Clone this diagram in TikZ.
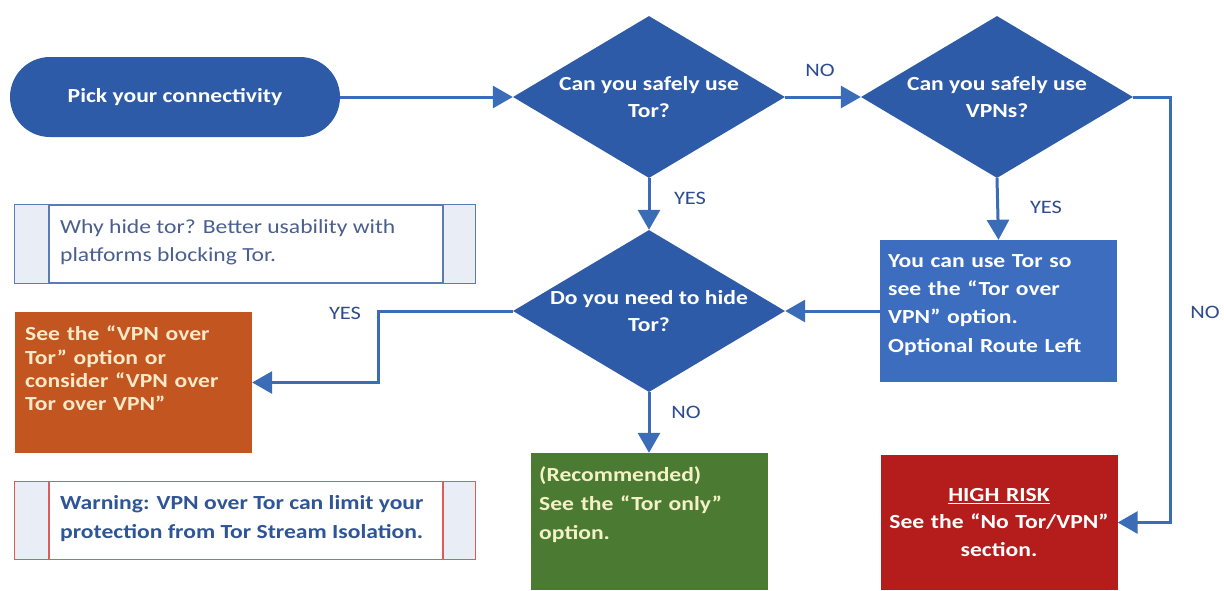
\documentclass[tikz,border=0pt]{standalone}
\usepackage{fontspec}
\setmainfont{Carlito}[FakeStretch=1.18]
\usetikzlibrary{shapes.geometric,arrows.meta}
\definecolor{dblue}{HTML}{2E5BA8}
\definecolor{bbox}{HTML}{3C6DBF}
\definecolor{lblue}{HTML}{3B6CB8}
\definecolor{obox}{HTML}{C25520}
\definecolor{gbox}{HTML}{4B7B33}
\definecolor{rbox}{HTML}{B51C1C}
\definecolor{labc}{HTML}{2D4B8E}
\definecolor{otxt}{HTML}{FCE9C8}
\definecolor{gtxt}{HTML}{F4F1C6}
\definecolor{nblue}{HTML}{5A7AB8}
\definecolor{nred}{HTML}{E05A5A}
\definecolor{ncell}{HTML}{E9EDF5}
\definecolor{ntxt}{HTML}{4B5F8E}
\definecolor{wtxt}{HTML}{2F5597}
\begin{document}
\begin{tikzpicture}[x=1pt,y=-1pt,
  dia/.style={diamond, fill=dblue, minimum width=272pt, minimum height=162pt, inner sep=0pt},
  dlabel/.style={text=white, font=\bfseries\fontsize{20}{27}\selectfont, align=center},
  term/.style={fill=dblue, rounded corners=40pt, minimum width=330pt, minimum height=80pt, inner sep=0pt,
    text=white, font=\bfseries\fontsize{20}{24}\selectfont},
  colbox/.style={minimum width=237pt, inner sep=0pt},
  boxtxt/.style={inner sep=0pt, text width=228pt, align=left, anchor=north west},
  conn/.style={draw=lblue, line width=3pt, -{Triangle[length=20pt,width=22pt]}},
  lab/.style={text=labc, font=\fontsize{19}{22}\selectfont},
  notebox/.style={minimum width=460pt, minimum height=78pt, inner sep=0pt, line width=1.6pt, fill=white},
]
\useasboundingbox (0,0) rectangle (1224,590);
\clip (0,0) rectangle (1224,590);

% start
\node[term] (start) at (175,97) {Pick your connectivity};

% decisions
\node[dia, label={[dlabel]center:{Can you safely use\\Tor?}}] (d1) at (649,97) {};
\node[dia, label={[dlabel]center:{Can you safely use\\VPNs?}}] (d2) at (997,97) {};
\node[dia, label={[dlabel]center:{Do you need to hide\\Tor?}}] (d3) at (649,311) {};

% result boxes
\node[colbox, fill=bbox, minimum height=142pt] (blue) at (998.5,311) {};
\node[boxtxt, text=white, font=\bfseries\fontsize{20}{28.3}\selectfont] (bluetxt) at (888,254)
  {You can use Tor so\\see the “Tor over\\VPN” option.\\Optional Route Left};

\node[colbox, fill=obox, minimum height=141pt] (orange) at (133.5,382.5) {};
\node[boxtxt, text=otxt, font=\bfseries\fontsize{20}{23.3}\selectfont] (orangetxt) at (25,326)
  {See the “VPN over\\Tor” option or\\consider “VPN over\\Tor over VPN”};

\node[colbox, fill=gbox, minimum height=137pt] (green) at (649,521.5) {};
\node[boxtxt, text=gtxt, font=\bfseries\fontsize{20}{29}\selectfont] (greentxt) at (539,466)
  {(Recommended)\\See the “Tor only”\\option.};

\node[colbox, fill=rbox, minimum height=135pt] (red) at (999,522.5) {};
\node[inner sep=0pt, text width=234pt, align=center, anchor=north, text=white,
  font=\bfseries\fontsize{20}{27.5}\selectfont] (redtxt) at (999,488)
  {\underline{HIGH RISK}\\See the “No Tor/VPN”\\section.};

% note boxes
\node[notebox, draw=nblue] (note1) at (245,244) {};
\fill[ncell] ([shift={(1,1)}]note1.north west) rectangle ([shift={(35,-1)}]note1.south west);
\fill[ncell] ([shift={(-33,1)}]note1.north east) rectangle ([shift={(-1,-1)}]note1.south east);
\draw[nblue, line width=1.6pt] ([xshift=35pt]note1.north west) -- ([xshift=35pt]note1.south west);
\draw[nblue, line width=1.6pt] ([xshift=-33pt]note1.north east) -- ([xshift=-33pt]note1.south east);
\node[anchor=west, inner sep=0pt, align=left, text=ntxt, font=\fontsize{20}{28}\selectfont] (note1txt) at (60,242)
  {Why hide tor? Better usability with\\platforms blocking Tor.};

\node[notebox, draw=nred] (note2) at (245,520.5) {};
\fill[ncell] ([shift={(1,1)}]note2.north west) rectangle ([shift={(35,-1)}]note2.south west);
\fill[ncell] ([shift={(-33,1)}]note2.north east) rectangle ([shift={(-1,-1)}]note2.south east);
\draw[nred, line width=1.6pt] ([xshift=35pt]note2.north west) -- ([xshift=35pt]note2.south west);
\draw[nred, line width=1.6pt] ([xshift=-33pt]note2.north east) -- ([xshift=-33pt]note2.south east);
\node[anchor=west, inner sep=0pt, align=left, text=wtxt, font=\bfseries\fontsize{20}{29}\selectfont] (note2txt) at (60,518.5)
  {Warning: VPN over Tor can limit your\\protection from Tor Stream Isolation.};

% connectors
\draw[conn] (start.east) -- (d1.west);
\draw[conn] (d1.east) -- (d2.west);
\draw[conn] (d2.east) -- ++(37,0) |- (red.east);
\draw[conn] (d1.south) -- (d3.north);
\draw[conn] (d2.south) -- (blue.north);
\draw[conn] (blue.west) -- (d3.east);
\draw[conn] (d3.west) -- (378,311) |- (orange.east);
\draw[conn] (d3.south) -- (green.north);

% connector labels
\node[lab] (lno1) at (820,70) {NO};
\node[lab] (lyes1) at (690,198) {YES};
\node[lab] (lyes2) at (1046,207) {YES};
\node[lab] (lno2) at (1205,312) {NO};
\node[lab] (lyes3) at (345,313) {YES};
\node[lab] (lno3) at (686,412) {NO};
\end{tikzpicture}
\end{document}
